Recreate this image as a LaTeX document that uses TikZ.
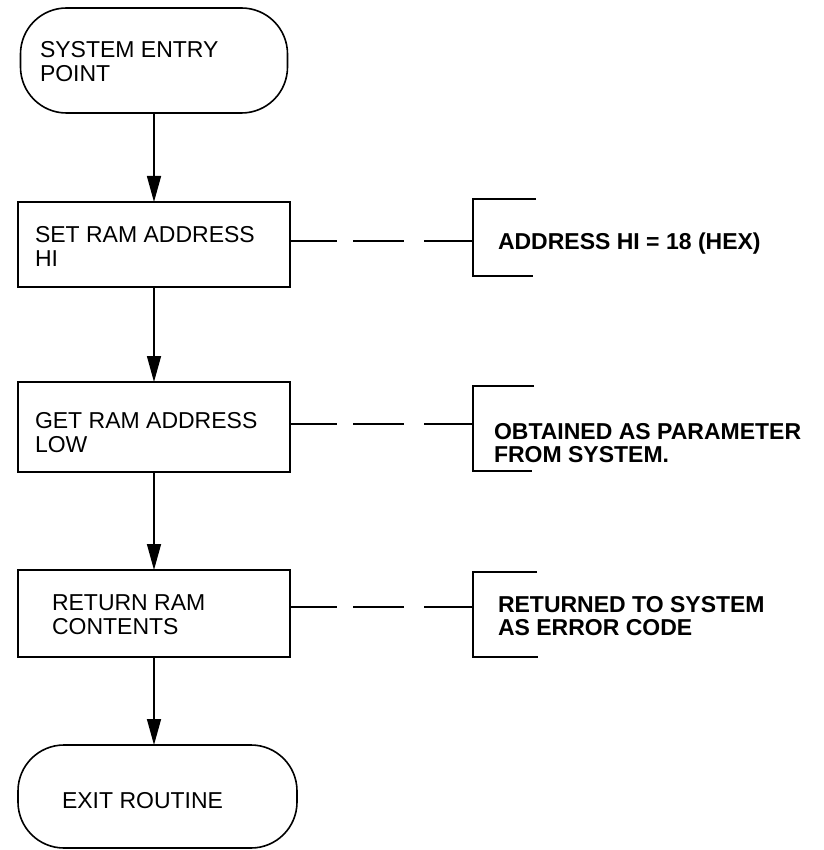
\documentclass[tikz,border=0pt]{standalone}
\usepackage{fontspec}
\setmainfont{Liberation Sans}
\usetikzlibrary{arrows.meta}
\tikzset{
  every node/.style={inner sep=0pt, outer sep=0pt},
  procbox/.style={draw, line width=1.6pt, rectangle, minimum width=272pt},
  termbox/.style={draw, line width=1.6pt, rectangle, rounded corners=46pt},
  lbl/.style={anchor=base west, align=left, font=\fontsize{23}{24}\selectfont},
  note/.style={anchor=base west, align=left, font=\fontsize{23}{22.5}\selectfont\bfseries},
  arr/.style={line width=1.5pt, -{Triangle[length=26pt,width=14pt]}},
  dashpat/.style={line width=1.5pt, dash pattern=on 47pt off 16pt on 51pt off 20pt on 50pt},
  brk/.style={line width=1.6pt}
}
\begin{document}
\begin{tikzpicture}[x=1pt,y=-1pt]
\useasboundingbox (0,0) rectangle (823,850);
% shapes
\node[termbox, minimum width=267pt, minimum height=105pt] (start) at (154,60.5) {};
\node[procbox, minimum height=85pt] (box1) at (154,244.5) {};
\node[procbox, minimum height=90pt] (box2) at (154,427) {};
\node[procbox, minimum height=87pt] (box3) at (154,613.5) {};
\node[termbox, minimum width=279pt, minimum height=103pt] (end) at (157.5,796.5) {};
% texts (base = last line)
\node[lbl] (tstart) at (40,82) {SYSTEM ENTRY\\POINT};
\node[lbl] (tbox1) at (35,266) {SET RAM ADDRESS\\HI};
\node[lbl] (tbox2) at (35,452) {GET RAM ADDRESS\\LOW};
\node[lbl] (tbox3) at (52,634) {RETURN RAM\\CONTENTS};
\node[lbl] (tend) at (62,808) {EXIT ROUTINE};
% arrows
\draw[arr] (start.south) -- (box1.north);
\draw[arr] (box1.south) -- (box2.north);
\draw[arr] (box2.south) -- (box3.north);
\draw[arr] (box3.south) -- (box3.south |- end.north);
% brackets
\coordinate (k1) at (473,241);
\coordinate (k2) at (473,424);
\coordinate (k3) at (473,607);
\draw[brk] (536,199) -- (473,199) -- (473,276) -- (533,276);
\draw[brk] (534,386) -- (473,386) -- (473,471) -- (532,471);
\draw[brk] (537,572) -- (473,572) -- (473,657) -- (538,657);
\draw[dashpat] (box1.east |- k1) -- (k1);
\draw[dashpat] (box2.east |- k2) -- (k2);
\draw[dashpat] (box3.east |- k3) -- (k3);
% notes
\node[note] (n1) at (498,249) {ADDRESS HI = 18 (HEX)};
\node[note] (n2) at (494,462) {OBTAINED AS PARAMETER\\FROM SYSTEM.};
\node[note] (n3) at (498,635) {RETURNED TO SYSTEM\\AS ERROR CODE};
\end{tikzpicture}
\end{document}
